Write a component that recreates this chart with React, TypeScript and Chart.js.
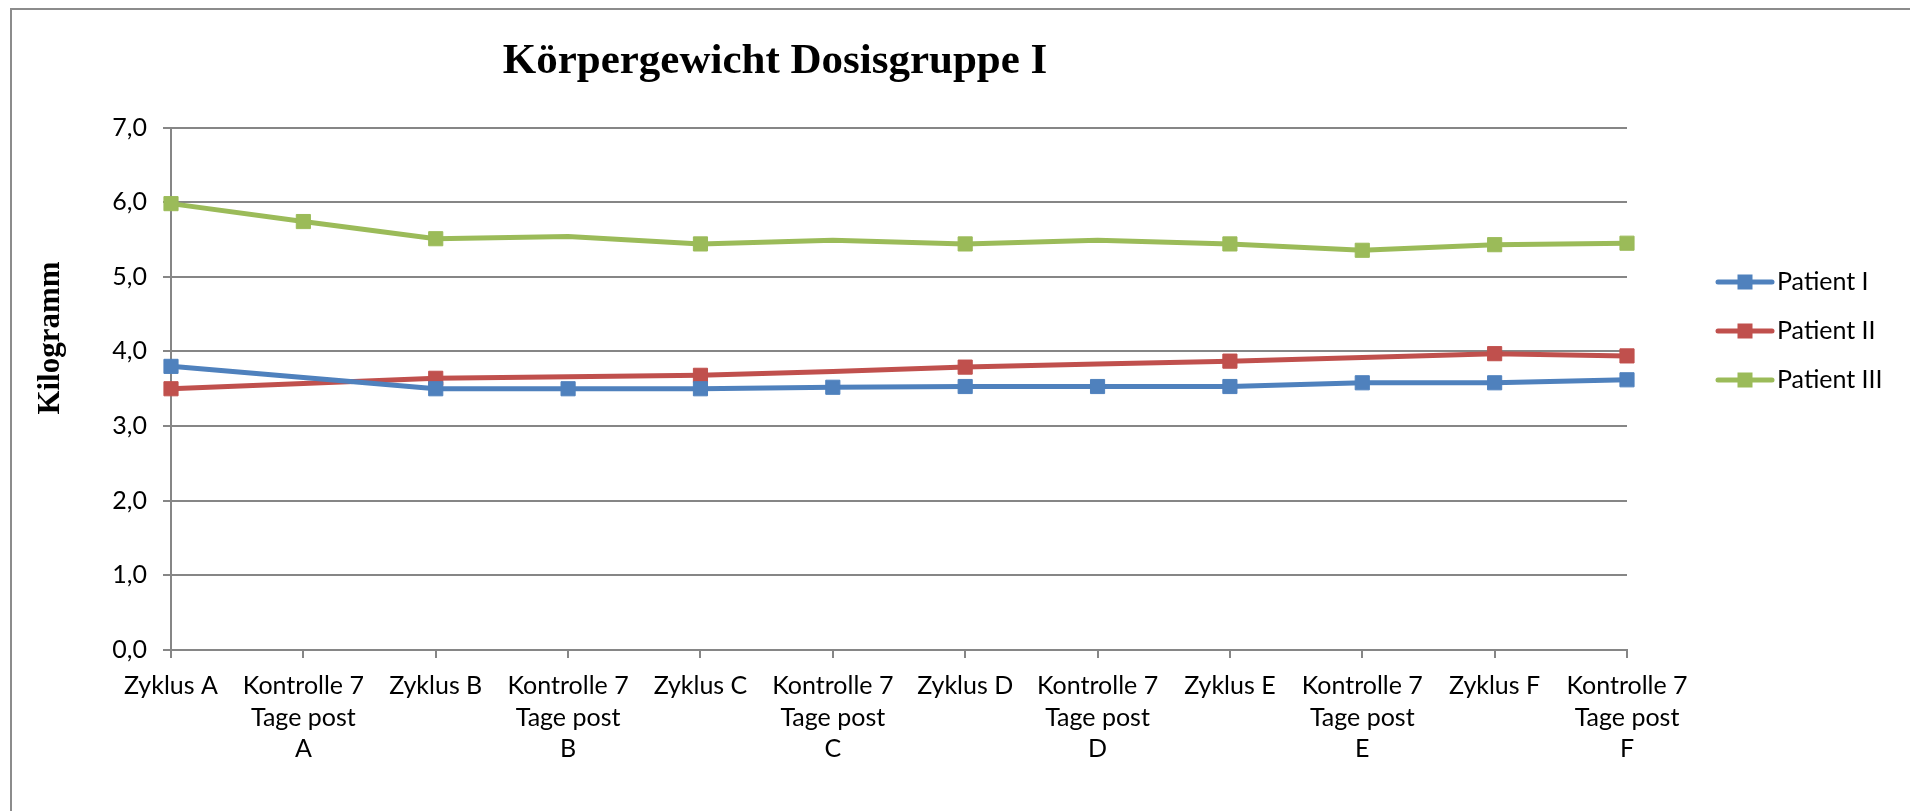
import React, { useEffect, useRef } from "react";
import { Chart, registerables } from "chart.js";

Chart.register(...registerables);

const categories: string[][] = [
  ["Zyklus A"],
  ["Kontrolle 7", "Tage post", "A"],
  ["Zyklus B"],
  ["Kontrolle 7", "Tage post", "B"],
  ["Zyklus C"],
  ["Kontrolle 7", "Tage post", "C"],
  ["Zyklus D"],
  ["Kontrolle 7", "Tage post", "D"],
  ["Zyklus E"],
  ["Kontrolle 7", "Tage post", "E"],
  ["Zyklus F"],
  ["Kontrolle 7", "Tage post", "F"],
];

const seriesNames = ["Patient I", "Patient II", "Patient III"];
const patientI = [3.8, 3.65, 3.5, 3.5, 3.5, 3.52, 3.53, 3.53, 3.53, 3.58, 3.58, 3.62];
const patientII = [3.5, 3.57, 3.64, 3.66, 3.68, 3.73, 3.79, 3.83, 3.87, 3.92, 3.97, 3.94];
const patientIII = [5.98, 5.74, 5.51, 5.54, 5.44, 5.49, 5.44, 5.49, 5.44, 5.355, 5.43, 5.45];
// 1 = marker drawn at this point, 0 = no marker
const markersI = [1, 0, 1, 1, 1, 1, 1, 1, 1, 1, 1, 1];
const markersII = [1, 0, 1, 0, 1, 0, 1, 0, 1, 0, 1, 1];
const markersIII = [1, 1, 1, 0, 1, 0, 1, 0, 1, 1, 1, 1];
const seriesColors = ["#4F81BD", "#C0504D", "#9BBB59"];
const yMin = 0;
const yMax = 7;
const yStep = 1;

const titleText = "Körpergewicht Dosisgruppe I";
const yTitleText = "Kilogramm";

const W = 1910;
const H = 811;
const GRID = "#868686";
const LABEL_FONT = "Lato, 'Open Sans', sans-serif";
const SERIF = "'Liberation Serif', 'Times New Roman', serif";

const decorPlugin = {
  id: "decor",
  beforeDraw(chart: any) {
    const ctx = chart.ctx;
    ctx.save();
    ctx.fillStyle = "#ffffff";
    ctx.fillRect(0, 0, W, H);
    ctx.strokeStyle = "#8c8c8c";
    ctx.lineWidth = 2;
    ctx.beginPath();
    ctx.moveTo(11, H + 5);
    ctx.lineTo(11, 9);
    ctx.lineTo(W + 5, 9);
    ctx.stroke();
    ctx.restore();
  },
  afterDraw(chart: any) {
    const ctx = chart.ctx;
    ctx.save();
    // title
    ctx.fillStyle = "#000000";
    ctx.font = `bold 43px ${SERIF}`;
    ctx.textAlign = "center";
    ctx.textBaseline = "middle";
    ctx.fillText(titleText, 775, 62);
    // y axis title
    ctx.save();
    ctx.translate(51, 338);
    ctx.rotate(-Math.PI / 2);
    ctx.font = `bold 31px ${SERIF}`;
    ctx.fillText(yTitleText, 0, 0);
    ctx.restore();
    // legend
    const rows = [282, 331, 380];
    chart.data.datasets.forEach((ds: any, i: number) => {
      const y = rows[i];
      ctx.strokeStyle = ds.borderColor;
      ctx.lineWidth = 5;
      ctx.lineCap = "round";
      ctx.beginPath();
      ctx.moveTo(1718, y);
      ctx.lineTo(1772, y);
      ctx.stroke();
      ctx.fillStyle = ds.borderColor;
      ctx.fillRect(1745 - 7.5, y - 7.5, 15, 15);
      ctx.fillStyle = "#000000";
      ctx.font = `25px ${LABEL_FONT}`;
      ctx.textAlign = "left";
      ctx.textBaseline = "middle";
      ctx.fillText(ds.label, 1777, y);
    });
    ctx.restore();
  },
};

function makeDataset(label: string, data: number[], markers: number[], color: string) {
  return {
    label,
    data,
    borderColor: color,
    backgroundColor: color,
    borderWidth: 5,
    tension: 0,
    pointStyle: "rect",
    pointRadius: (c: any) => (markers[c.dataIndex] ? 10 : 0),
    pointHoverRadius: (c: any) => (markers[c.dataIndex] ? 10 : 0),
    pointBorderWidth: 1,
    pointBackgroundColor: color,
    pointBorderColor: color,
  };
}

export default function App() {
  const ref = useRef<HTMLCanvasElement | null>(null);

  useEffect(() => {
    if (!ref.current) return;
    const chart = new Chart(ref.current, {
      type: "line",
      data: {
        labels: categories,
        datasets: [
          makeDataset(seriesNames[0], patientI, markersI, seriesColors[0]),
          makeDataset(seriesNames[1], patientII, markersII, seriesColors[1]),
          makeDataset(seriesNames[2], patientIII, markersIII, seriesColors[2]),
        ],
      },
      options: {
        responsive: false,
        animation: false,
        events: [],
        layout: { padding: { left: 0, top: 127.5, right: W - 1627, bottom: 0 } },
        plugins: {
          legend: { display: false },
          title: { display: false },
          tooltip: { enabled: false },
        },
        scales: {
          x: {
            offset: false,
            border: { display: true, color: GRID, width: 2 },
            grid: {
              display: true,
              drawOnChartArea: false,
              drawTicks: true,
              tickLength: 8,
              color: GRID,
              lineWidth: 2,
            },
            ticks: {
              color: "#000000",
              font: { family: LABEL_FONT, size: 25, lineHeight: 1.27 },
              padding: 12,
              maxRotation: 0,
              minRotation: 0,
              autoSkip: false,
            },
            afterFit(scale: any) {
              scale.height = H - 650;
            },
          },
          y: {
            min: yMin,
            max: yMax,
            border: { display: true, color: GRID, width: 2 },
            grid: {
              display: true,
              drawTicks: true,
              tickLength: 8,
              color: GRID,
              lineWidth: 2,
            },
            ticks: {
              stepSize: yStep,
              color: "#000000",
              font: { family: LABEL_FONT, size: 25 },
              padding: 16,
              callback: (v: any) => Number(v).toFixed(1).replace(".", ","),
            },
            afterFit(scale: any) {
              scale.width = 171;
            },
          },
        },
      },
      plugins: [decorPlugin],
    });
    return () => chart.destroy();
  }, []);

  return (
    <div style={{ position: "fixed", left: 0, top: 0, width: W, height: H, background: "#fff", overflow: "hidden" }}>
      <canvas ref={ref} width={W} height={H} style={{ display: "block", width: W, height: H }} />
    </div>
  );
}
